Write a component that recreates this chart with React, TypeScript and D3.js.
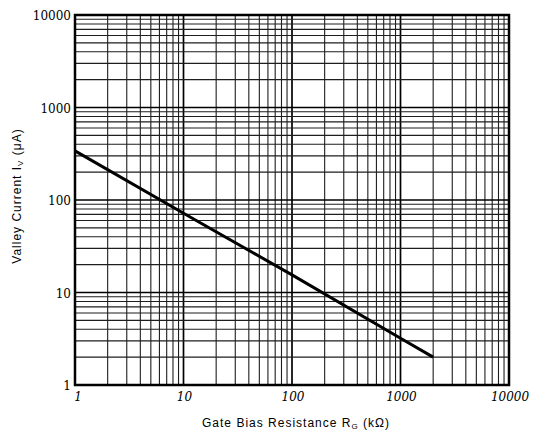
import React from "react";
import * as d3 from "d3";

// Valley current vs. gate bias resistance (log-log)
const resistanceK = [1, 10, 100, 1000, 2000];
const valleyCurrentUA = [340, 72, 15.5, 3.2, 2];

const xTickValues = [1, 10, 100, 1000, 10000];
const yTickValues = [1, 10, 100, 1000, 10000];
const xTickLabels = ["1", "10", "100", "1000", "10000"];
const yTickLabels = ["1", "10", "100", "1000", "10000"];

const W = 538;
const H = 434;
const left = 75;
const right = 509;
const top = 15;
const bottom = 385;

function gridValues(): { v: number; major: boolean }[] {
  const out: { v: number; major: boolean }[] = [];
  for (let e = 0; e <= 4; e++) {
    const base = Math.pow(10, e);
    out.push({ v: base, major: true });
    if (e < 4) for (let m = 2; m <= 9; m++) out.push({ v: m * base, major: false });
  }
  return out;
}

export default function App() {
  const x = d3.scaleLog().domain([1, 10000]).range([left, right]);
  const y = d3.scaleLog().domain([1, 10000]).range([bottom, top]);
  const grid = gridValues();

  const pts: [number, number][] = resistanceK.map((r, i) => [r, valleyCurrentUA[i]]);
  const line = d3
    .line<[number, number]>()
    .x((d) => x(d[0]))
    .y((d) => y(d[1]));

  const serif = "'DejaVu Serif', 'Liberation Serif', serif";
  const sans = "'Liberation Sans', 'DejaVu Sans', sans-serif";

  return (
    <svg
      width={W}
      height={H}
      style={{ position: "absolute", left: 0, top: 0, background: "#fff" }}
    >
      <rect x={0} y={0} width={W} height={H} fill="#fff" />
      {/* log grid */}
      {grid.map((g, i) => (
        <line
          key={"vx" + i}
          x1={x(g.v)}
          x2={x(g.v)}
          y1={top}
          y2={bottom}
          stroke={g.major ? "#000" : "#1e1e1e"}
          strokeWidth={g.major ? 1.7 : 1.1}
        />
      ))}
      {grid.map((g, i) => (
        <line
          key={"hy" + i}
          x1={left}
          x2={right}
          y1={y(g.v)}
          y2={y(g.v)}
          stroke={g.major ? "#000" : "#1e1e1e"}
          strokeWidth={g.major ? 1.7 : 1.1}
        />
      ))}
      {/* frame */}
      <rect
        x={left}
        y={top}
        width={right - left}
        height={bottom - top}
        fill="none"
        stroke="#000"
        strokeWidth={2.5}
      />
      {/* curve */}
      <path
        d={line(pts) || ""}
        fill="none"
        stroke="#000"
        strokeWidth={3}
        strokeLinecap="butt"
      />
      {/* y tick labels */}
      {yTickValues.map((v, i) => (
        <text
          key={"yl" + i}
          x={left - 4}
          y={y(v) + 5}
          textAnchor="end"
          fontFamily={serif}
          fontSize={12}
          fill="#000"
        >
          {yTickLabels[i]}
        </text>
      ))}
      {/* x tick labels */}
      {xTickValues.map((v, i) => (
        <text
          key={"xl" + i}
          x={x(v) + (i === 0 ? 3 : 1)}
          y={bottom + 16}
          textAnchor="middle"
          fontFamily={serif}
          fontStyle="italic"
          fontSize={12}
          fill="#000"
        >
          {xTickLabels[i]}
        </text>
      ))}
      {/* axis titles */}
      <text
        x={296}
        y={427}
        textAnchor="middle"
        fontFamily={sans}
        fontSize={12}
        letterSpacing={1}
        fill="#000"
      >
        Gate Bias Resistance R
        <tspan fontSize={8} dy={2}>G</tspan>
        <tspan dy={-2}> (kΩ)</tspan>
      </text>
      <text
        transform={`translate(21,196) rotate(-90)`}
        textAnchor="middle"
        fontFamily={sans}
        fontSize={12}
        letterSpacing={1}
        fill="#000"
      >
        Valley Current I
        <tspan fontSize={8} dy={2}>V</tspan>
        <tspan dy={-2}> (μA)</tspan>
      </text>
    </svg>
  );
}
